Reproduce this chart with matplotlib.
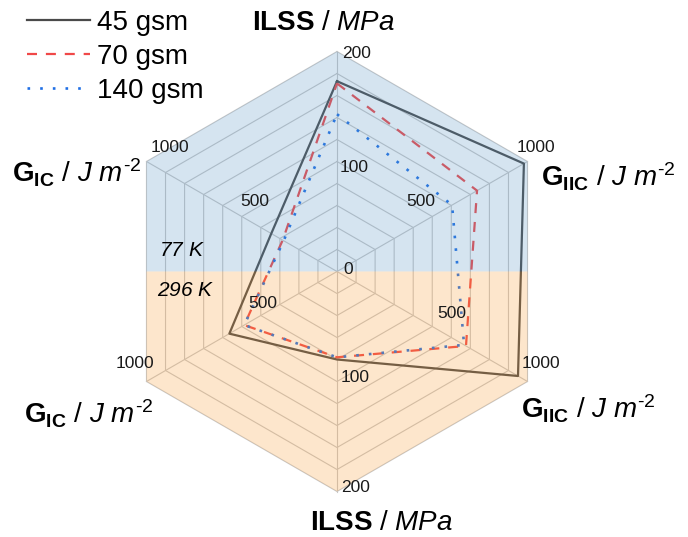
import numpy as np
import matplotlib
matplotlib.use('Agg')
import matplotlib.pyplot as plt

# axes of the radar, clockwise from the top
axis_names = ['ILSS 77 K', 'GIIC 77 K', 'GIIC 296 K', 'ILSS 296 K', 'GIC 296 K', 'GIC 77 K']
axis_max = [200, 1000, 1000, 200, 1000, 1000]
angles_deg = [90, 30, -30, -90, -150, 150]

series_names = ['45 gsm', '70 gsm', '140 gsm']
gsm45 = [173, 981, 950, 80, 565, 345]
gsm70 = [171, 735, 677, 78, 487, 285]
gsm140 = [143, 604, 667, 78, 487, 280]

plt.rcParams['font.family'] = ['Liberation Sans', 'DejaVu Sans']
plt.rcParams['mathtext.fontset'] = 'custom'
plt.rcParams['mathtext.rm'] = 'Liberation Sans'
plt.rcParams['mathtext.it'] = 'Liberation Sans:italic'
plt.rcParams['mathtext.bf'] = 'Liberation Sans:bold'

W, H = 688, 537
cx, cy, R = 337, 271.5, 220

fig = plt.figure(figsize=(W / 100, H / 100), dpi=100)
ax = fig.add_axes([0, 0, 1, 1])
ax.set_xlim(-cx / R, (W - cx) / R)
ax.set_ylim((cy - H) / R, cy / R)
ax.axis('off')

ang = np.radians(angles_deg)
ux, uy = np.cos(ang), np.sin(ang)


def px(x, y):
    # pixel position (from top-left) -> data coords
    return (x - cx) / R, (cy - y) / R


def project(values):
    f = np.array(values) / np.array(axis_max)
    xs, ys = f * ux, f * uy
    return np.append(xs, xs[0]), np.append(ys, ys[0])


# grid
for k in range(1, 11):
    f = k / 10
    ax.plot(np.append(f * ux, f * ux[0]), np.append(f * uy, f * uy[0]),
            color='#c8c8c8', lw=0.8, zorder=1)
for i in range(6):
    ax.plot([0, ux[i]], [0, uy[i]], color='#c8c8c8', lw=0.8, zorder=1)

# data
styles = [dict(color='#4a4a4a', lw=1.6, ls='-'),
          dict(color='#f04848', lw=1.6, ls=(0, (4.5, 4))),
          dict(color='#1f6fe5', lw=1.9, ls=(0, (1, 3.8)))]
handles = []
for vals, name, st in zip([gsm45, gsm70, gsm140], series_names, styles):
    xs, ys = project(vals)
    h, = ax.plot(xs, ys, zorder=2, label=name, **st)
    handles.append(h)

# temperature overlays (on top, they tint the lines too)
c30 = np.cos(np.radians(30))
upper = [(c30, 0), (c30, 0.5), (0, 1), (-c30, 0.5), (-c30, 0)]
lower = [(c30, 0), (c30, -0.5), (0, -1), (-c30, -0.5), (-c30, 0)]
ax.add_patch(plt.Polygon(upper, closed=True, facecolor='#5894c4', alpha=0.25,
                         edgecolor='none', zorder=3))
ax.add_patch(plt.Polygon(lower, closed=True, facecolor='#f89c34', alpha=0.25,
                         edgecolor='none', zorder=3))

# tick labels
tick_labels = [('200', 357, 54), ('100', 354, 167), ('0', 348, 269),
               ('1000', 536, 147), ('500', 421, 202),
               ('1000', 170, 148), ('500', 255, 201),
               ('1000', 135, 363), ('500', 263, 304),
               ('1000', 541, 363), ('500', 452, 314),
               ('100', 355, 377), ('200', 356, 487)]
for t, x, y in tick_labels:
    ax.text(*px(x, y), t, fontsize=12.5, ha='center', va='center', color='#1a1a1a', zorder=5)

ilss = r'$\mathbf{ILSS}$ / $\mathit{MPa}$'
gic = r'$\mathbf{G}_{\mathbf{IC}}$ / $\mathit{J}$ $\mathit{m}^{\text{-2}}$'
giic = r'$\mathbf{G}_{\mathbf{IIC}}$ / $\mathit{J}$ $\mathit{m}^{\text{-2}}$'
titles = [(ilss, 323, 23), (giic, 608, 177), (giic, 588, 409),
          (ilss, 381, 523), (gic, 89, 414), (gic, 77, 173)]
for t, x, y in titles:
    ax.text(*px(x, y), t, fontsize=20, ha='center', va='center', zorder=5)

ax.text(*px(182, 251), '77 $\\mathit{K}$', fontsize=15, style='italic', ha='center', va='center', zorder=5)
ax.text(*px(186, 291), '296 $\\mathit{K}$', fontsize=15, style='italic', ha='center', va='center', zorder=5)

ax.legend(handles=handles, loc='upper left', bbox_to_anchor=(27 / W, 1 - 10 / H),
          bbox_transform=fig.transFigure, frameon=False, fontsize=20,
          handlelength=2.27, handletextpad=0.25, labelspacing=0.29,
          borderpad=0, borderaxespad=0)

fig.savefig('out.png', dpi=100)
